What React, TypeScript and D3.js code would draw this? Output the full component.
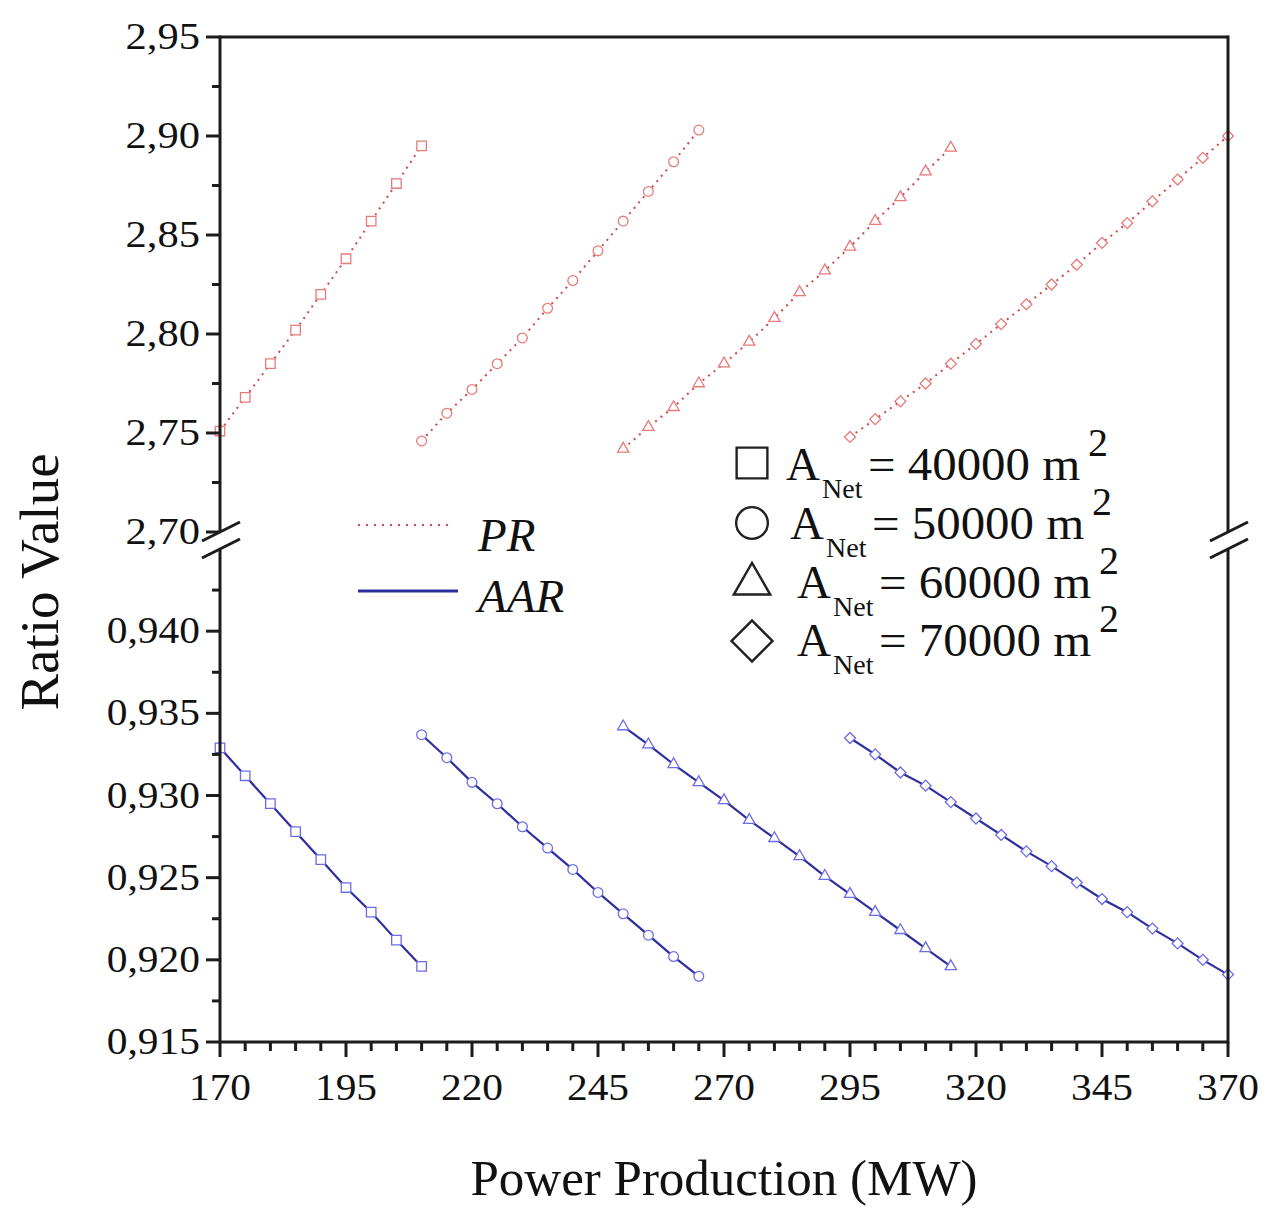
import React from "react";
import * as d3 from "d3";

// ---------- data ----------
const xTicks = [170, 195, 220, 245, 270, 295, 320, 345, 370];
const topTicks = [2.7, 2.75, 2.8, 2.85, 2.9, 2.95];
const bottomTicks = [0.915, 0.92, 0.925, 0.93, 0.935, 0.94];

const power40000 = [170, 175, 180, 185, 190, 195, 200, 205, 210];
const power50000 = [210, 215, 220, 225, 230, 235, 240, 245, 250, 255, 260, 265];
const power60000 = [250, 255, 260, 265, 270, 275, 280, 285, 290, 295, 300, 305, 310, 315];
const power70000 = [295, 300, 305, 310, 315, 320, 325, 330, 335, 340, 345, 350, 355, 360, 365, 370];

const pr40000 = [2.751, 2.768, 2.785, 2.802, 2.82, 2.838, 2.857, 2.876, 2.895];
const pr50000 = [2.746, 2.76, 2.772, 2.785, 2.798, 2.813, 2.827, 2.842, 2.857, 2.872, 2.887, 2.903];
const pr60000 = [2.742, 2.753, 2.763, 2.775, 2.785, 2.796, 2.808, 2.821, 2.832, 2.844, 2.857, 2.869, 2.882, 2.894];
const pr70000 = [2.748, 2.757, 2.766, 2.775, 2.785, 2.795, 2.805, 2.815, 2.825, 2.835, 2.846, 2.856, 2.867, 2.878, 2.889, 2.9];

const aar40000 = [0.9329, 0.9312, 0.9295, 0.9278, 0.9261, 0.9244, 0.9229, 0.9212, 0.9196];
const aar50000 = [0.9337, 0.9323, 0.9308, 0.9295, 0.9281, 0.9268, 0.9255, 0.9241, 0.9228, 0.9215, 0.9202, 0.919];
const aar60000 = [0.9342, 0.9331, 0.9319, 0.9308, 0.9297, 0.9285, 0.9274, 0.9263, 0.9251, 0.924, 0.9229, 0.9218, 0.9207, 0.9196];
const aar70000 = [0.9335, 0.9325, 0.9314, 0.9306, 0.9296, 0.9286, 0.9276, 0.9266, 0.9257, 0.9247, 0.9237, 0.9229, 0.9219, 0.921, 0.92, 0.9191];

const areaLabels = ["40000", "50000", "60000", "70000"];
const symbolKinds = ["square", "circle", "triangle", "diamond"];

// ---------- layout ----------
const W = 1267;
const H = 1215;
const L = 220;
const R = 1228;
const T = 37;
const TOP_B = 532;
const BOT_T = 549;
const B = 1042;
const FONT = "'Liberation Serif', 'Times New Roman', serif";
const AXIS = "#1c1c1c";
const PR_COLOR = "#e87a7a";
const PR_LINE = "#d04848";
const AAR_LINE = "#2e2e9e";
const AAR_MARK = "#6c6ce8";

const x = d3.scaleLinear().domain([170, 370]).range([L, R]);
const yTop = d3.scaleLinear().domain([2.7, 2.95]).range([TOP_B, T]);
const yBot = d3.scaleLinear().domain([0.915, 0.945]).range([B, BOT_T]);

const symbolPath = (kind: string, area: number) => {
  const t =
    kind === "square" ? d3.symbolSquare :
    kind === "circle" ? d3.symbolCircle :
    kind === "triangle" ? d3.symbolTriangle : d3.symbolSquare;
  return d3.symbol(t, area)() as string;
};

const comma = (f: string) => (v: number) => d3.format(f)(v).replace(".", ",");

export default function App() {
  const powers = [power40000, power50000, power60000, power70000];
  const prs = [pr40000, pr50000, pr60000, pr70000];
  const aars = [aar40000, aar50000, aar60000, aar70000];

  const lineTop = d3.line<[number, number]>().x((d) => x(d[0])).y((d) => yTop(d[1]));
  const lineBot = d3.line<[number, number]>().x((d) => x(d[0])).y((d) => yBot(d[1]));

  const xMinor = d3.range(170, 371, 5).filter((v) => (v - 170) % 25 !== 0);
  const topMinor = topTicks.slice(0, -1).map((v) => v + 0.025);
  const botMinor = bottomTicks.map((v) => v + 0.0025);

  const markerArea: Record<string, number> = { square: 90, circle: 75, triangle: 55, diamond: 60 };

  const renderMarker = (kind: string, cx: number, cy: number, color: string, key: string, scaleA = 1, sw = 1.3, fill = "white") => (
    <path
      key={key}
      d={symbolPath(kind, markerArea[kind] * scaleA)}
      transform={`translate(${cx},${cy})${kind === "diamond" ? " rotate(45)" : ""}`}
      fill={fill}
      stroke={color}
      strokeWidth={sw}
    />
  );

  const legendRows = [
    { sy: 463, ax: 786, base: 480 },
    { sy: 523, ax: 790, base: 539 },
    { sy: 584, ax: 797, base: 598 },
    { sy: 641, ax: 797, base: 656 },
  ];

  return (
    <svg width={W} height={H} style={{ position: "absolute", left: 0, top: 0, background: "white" }} fontFamily={FONT}>
      <rect x={0} y={0} width={W} height={H} fill="white" />

      {/* PR series */}
      {powers.map((px, i) => {
        const pts = px.map((p, j) => [p, prs[i][j]] as [number, number]);
        return (
          <g key={"pr" + i}>
            <path d={lineTop(pts) as string} fill="none" stroke={PR_LINE} strokeWidth={2} strokeDasharray="2,5" />
            {pts.map((d, j) => renderMarker(symbolKinds[i], x(d[0]), yTop(d[1]), PR_COLOR, `prm${i}-${j}`))}
          </g>
        );
      })}

      {/* AAR series */}
      {powers.map((px, i) => {
        const pts = px.map((p, j) => [p, aars[i][j]] as [number, number]);
        return (
          <g key={"aar" + i}>
            <path d={lineBot(pts) as string} fill="none" stroke={AAR_LINE} strokeWidth={2.2} />
            {pts.map((d, j) => renderMarker(symbolKinds[i], x(d[0]), yBot(d[1]), AAR_MARK, `aarm${i}-${j}`))}
          </g>
        );
      })}

      {/* frame */}
      <g stroke={AXIS} strokeWidth={3} fill="none">
        <line x1={L} y1={T} x2={R} y2={T} />
        <line x1={L} y1={T - 1.5} x2={L} y2={TOP_B} />
        <line x1={L} y1={BOT_T} x2={L} y2={B + 1.5} />
        <line x1={R} y1={T - 1.5} x2={R} y2={TOP_B} />
        <line x1={R} y1={BOT_T} x2={R} y2={B + 1.5} />
        <line x1={L} y1={B} x2={R} y2={B} />
        {[L, R].map((bx) => (
          <g key={"brk" + bx}>
            <line x1={bx - 18} y1={TOP_B + 9} x2={bx + 20} y2={TOP_B - 10} />
            <line x1={bx - 18} y1={BOT_T + 9} x2={bx + 20} y2={BOT_T - 10} />
          </g>
        ))}
      </g>

      {/* ticks */}
      <g stroke={AXIS} strokeWidth={3}>
        {xTicks.map((v) => <line key={"xt" + v} x1={x(v)} y1={B} x2={x(v)} y2={B + 15} />)}
        {xMinor.map((v) => <line key={"xm" + v} x1={x(v)} y1={B} x2={x(v)} y2={B + 9} />)}
        {topTicks.map((v) => <line key={"tt" + v} x1={L} y1={yTop(v)} x2={L - 14} y2={yTop(v)} />)}
        {topMinor.map((v) => <line key={"tm" + v} x1={L} y1={yTop(v)} x2={L - 8} y2={yTop(v)} />)}
        {bottomTicks.map((v) => <line key={"bt" + v} x1={L} y1={yBot(v)} x2={L - 14} y2={yBot(v)} />)}
        {botMinor.map((v) => <line key={"bm" + v} x1={L} y1={yBot(v)} x2={L - 8} y2={yBot(v)} />)}
      </g>

      {/* tick labels */}
      <g fontSize={37} fill="#111">
        {xTicks.map((v) => (
          <text key={"xl" + v} transform={`translate(${x(v)},${B + 58}) scale(1.12,1)`} textAnchor="middle">{v}</text>
        ))}
        {topTicks.map((v) => (
          <text key={"tl" + v} transform={`translate(${L - 20},${yTop(v) + 12}) scale(1.15,1)`} textAnchor="end">{comma(".2f")(v)}</text>
        ))}
        {bottomTicks.map((v) => (
          <text key={"bl" + v} transform={`translate(${L - 20},${yBot(v) + 12}) scale(1.12,1)`} textAnchor="end">{comma(".3f")(v)}</text>
        ))}
      </g>

      {/* axis titles */}
      <text x={724} y={1195} fontSize={51} textAnchor="middle" fill="#111">Power Production (MW)</text>
      <text transform="translate(58,582) rotate(-90)" fontSize={55} textAnchor="middle" fill="#111">Ratio Value</text>

      {/* line-type legend */}
      <line x1={358} y1={525} x2={452} y2={525} stroke={PR_LINE} strokeWidth={2} strokeDasharray="2,6" />
      <text x={478} y={551} fontSize={47} fontStyle="italic" fill="#111">PR</text>
      <line x1={358} y1={591} x2={458} y2={591} stroke={AAR_LINE} strokeWidth={3} />
      <text x={478} y={612} fontSize={47} fontStyle="italic" fill="#111">AAR</text>

      {/* area legend */}
      {legendRows.map((r, i) => (
        <g key={"lg" + i} fill="#111">
          {renderMarker(symbolKinds[i], 752, r.sy, "#222", "lgm" + i, i === 3 ? 14 : 10.5, 2.4, "none")}
          <text x={r.ax} y={r.base} fontSize={47}>A</text>
          <text x={r.ax + 36} y={r.base + 18} fontSize={28}>Net</text>
          <text transform={`translate(${r.ax + 82},${r.base}) scale(1.04,1)`} fontSize={47}>{`= ${areaLabels[i]} m`}</text>
          <text x={r.ax + 302} y={r.base - 24} fontSize={40}>2</text>
        </g>
      ))}
    </svg>
  );
}
